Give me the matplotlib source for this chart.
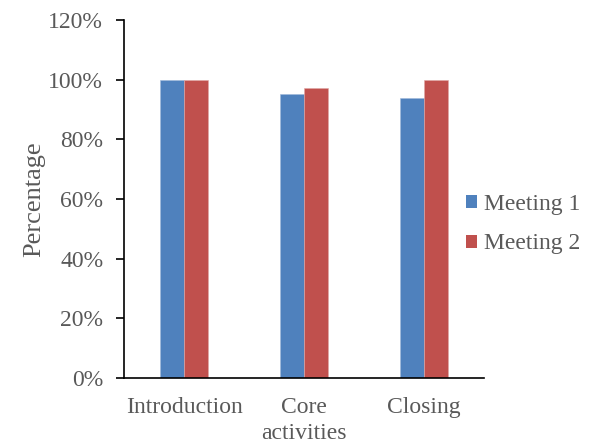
import matplotlib
matplotlib.use("Agg")
import matplotlib.pyplot as plt
import numpy as np
from matplotlib.patches import Patch
from matplotlib.ticker import PercentFormatter

categories = ["Introduction", "Core\nactivities", "Closing"]
meeting1 = [100, 95.2, 93.9]
meeting2 = [100, 97.1, 100]
series_names = ["Meeting 1", "Meeting 2"]
colors = ["#4F81BD", "#C0504D"]

plt.rcParams['font.family'] = ['Liberation Serif', 'DejaVu Serif']
text_color = "#595959"

fig = plt.figure(figsize=(5.92, 4.44), dpi=100)
ax = fig.add_axes([124/592, (444-378)/444, (484-124)/592, (378-20)/444])

x = np.arange(len(categories))
w = 0.2
ax.bar(x - w/2, meeting1, width=w, color=colors[0], edgecolor="#9fb8da", linewidth=0.4)
ax.bar(x + w/2, meeting2, width=w, color=colors[1], edgecolor="#e0a8a6", linewidth=0.4)

ax.set_xlim(-0.5, 2.5)
ax.set_ylim(0, 120)
ax.set_yticks(np.arange(0, 121, 20))
ax.yaxis.set_major_formatter(PercentFormatter(decimals=0))
ax.set_xticks(x)
ax.set_xticklabels(categories, fontsize=17, color=text_color, linespacing=1.3)
ax.tick_params(axis='x', length=0, pad=14)
ax.tick_params(axis='y', direction='out', length=6, width=1.2, labelsize=17,
               labelcolor=text_color, pad=9)
for s in ["top", "right"]:
    ax.spines[s].set_visible(False)
ax.spines["left"].set_linewidth(1.2)
ax.spines["bottom"].set_linewidth(1.2)
ax.set_ylabel("Percentage", fontsize=19, color=text_color, labelpad=2)

handles = [Patch(facecolor=c, edgecolor='none') for c in colors]
fig.legend(handles, series_names, loc="center left", bbox_to_anchor=(445/592, 1 - 224/444),
           frameon=False, fontsize=17, labelcolor=text_color, handlelength=0.47,
           handleheight=0.47, handletextpad=0.3, labelspacing=0.8)

fig.savefig("out.png", dpi=100)
